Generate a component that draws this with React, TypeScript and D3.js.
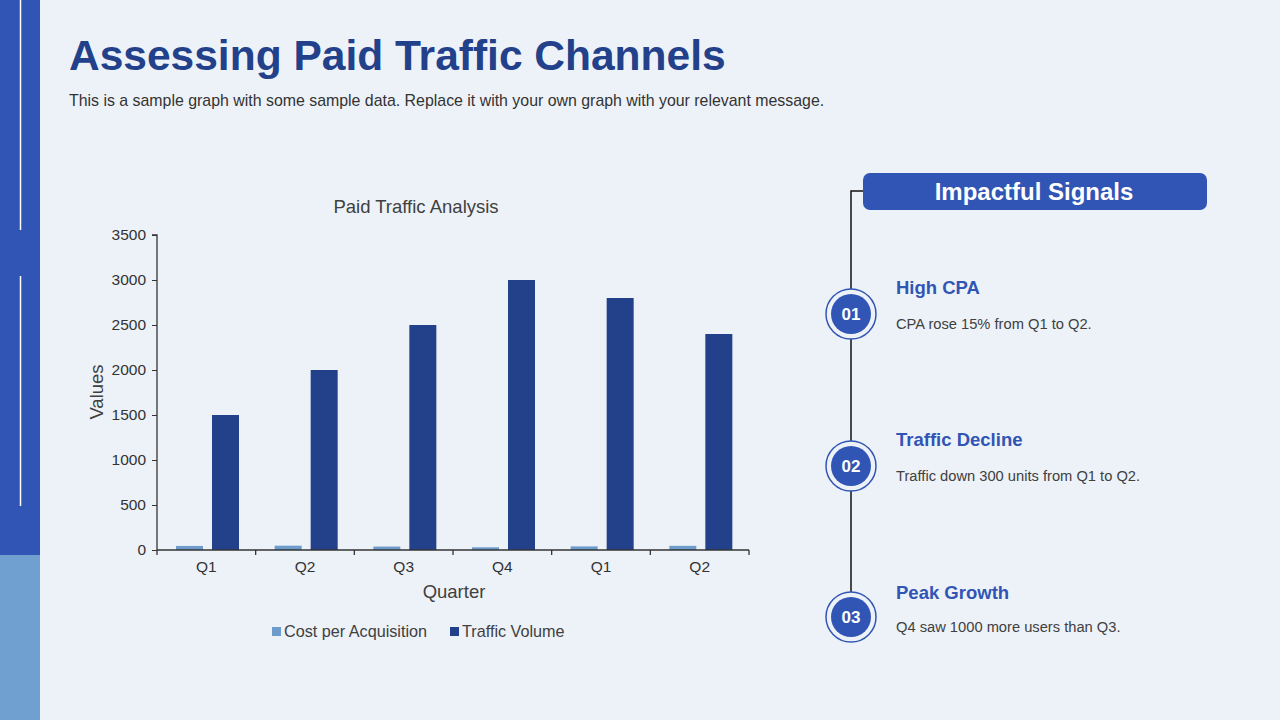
import React, { useEffect, useRef } from "react";
import * as d3 from "d3";

const quarters = ["Q1", "Q2", "Q3", "Q4", "Q1", "Q2"];
const costPerAcquisition = [45, 48, 38, 30, 40, 46];
const trafficVolume = [1500, 2000, 2500, 3000, 2800, 2400];
const yTicks = [0, 500, 1000, 1500, 2000, 2500, 3000, 3500];
const seriesNames = ["Cost per Acquisition", "Traffic Volume"];

const signalNumbers = ["01", "02", "03"];
const signalTitles = ["High CPA", "Traffic Decline", "Peak Growth"];
const signalTexts = [
  "CPA rose 15% from Q1 to Q2.",
  "Traffic down 300 units from Q1 to Q2.",
  "Q4 saw 1000 more users than Q3.",
];

const W = 1280;
const H = 720;
const FONT = "'Liberation Sans', Arial, sans-serif";
const dark = "#22418a";
const mid = "#3155b5";
const light = "#6c9bcc";
const bg = "#edf2f8";

const margin = { top: 235, left: 157, right: 749, bottom: 550 };

const App: React.FC = () => {
  const svgRef = useRef<SVGSVGElement>(null);

  useEffect(() => {
    const svg = d3.select(svgRef.current);
    svg.selectAll("*").remove();

    svg.append("rect").attr("width", W).attr("height", H).attr("fill", bg);

    // left side bar
    svg.append("rect").attr("width", 40).attr("height", 555).attr("fill", mid);
    svg.append("rect").attr("y", 555).attr("width", 40).attr("height", 165).attr("fill", "#6fa0cf");
    svg.append("line").attr("x1", 20.5).attr("x2", 20.5).attr("y1", 0).attr("y2", 230)
      .attr("stroke", "#ffffff").attr("stroke-width", 1.5);
    svg.append("line").attr("x1", 20.5).attr("x2", 20.5).attr("y1", 276).attr("y2", 506)
      .attr("stroke", "#ffffff").attr("stroke-width", 1.5);

    // header
    svg.append("text").attr("x", 69).attr("y", 70).attr("fill", dark)
      .style("font", `bold 42.5px ${FONT}`).text("Assessing Paid Traffic Channels");
    svg.append("text").attr("x", 69).attr("y", 106).attr("fill", "#333")
      .style("font", `15.9px ${FONT}`)
      .text("This is a sample graph with some sample data. Replace it with your own graph with your relevant message.");

    // chart
    const x = d3.scaleBand<number>()
      .domain(quarters.map((_, i) => i))
      .range([margin.left, margin.right]);
    const y = d3.scaleLinear().domain([0, 3500]).range([margin.bottom, margin.top]);
    const bw = 27;

    const chart = svg.append("g");

    chart.append("text").attr("x", 416).attr("y", 213).attr("text-anchor", "middle")
      .attr("fill", "#404040").style("font", `18.5px ${FONT}`).text("Paid Traffic Analysis");

    chart.selectAll(".cpa").data(costPerAcquisition).enter().append("rect")
      .attr("x", (_, i) => (x(i) as number) + 19)
      .attr("y", (d) => y(d))
      .attr("width", bw)
      .attr("height", (d) => y(0) - y(d))
      .attr("fill", light);

    chart.selectAll(".tv").data(trafficVolume).enter().append("rect")
      .attr("x", (_, i) => (x(i) as number) + 55)
      .attr("y", (d) => y(d))
      .attr("width", bw)
      .attr("height", (d) => y(0) - y(d))
      .attr("fill", dark);

    chart.append("g")
      .attr("transform", `translate(${margin.left},0)`)
      .call(d3.axisLeft(y).tickValues(yTicks).tickSize(5).tickFormat(d3.format("d")))
      .call((g) => g.select(".domain").attr("stroke", "#333").attr("stroke-width", 1.3).attr("d", `M-5,${margin.top}H0V${margin.bottom}`))
      .call((g) => g.selectAll("line").attr("stroke", "#333"))
      .call((g) => g.selectAll("text").attr("fill", "#333").attr("x", -11).style("font", `15.5px ${FONT}`));

    chart.append("g")
      .attr("transform", `translate(0,${margin.bottom})`)
      .call(d3.axisBottom(x).tickSize(0).tickFormat((i) => quarters[i as number]))
      .call((g) => g.select(".domain").attr("stroke", "#333").attr("stroke-width", 1.3).attr("d", `M${margin.left},0H${margin.right}`))
      .call((g) => g.selectAll("text").attr("fill", "#333").attr("dy", "1.2em").style("font", `15.5px ${FONT}`));

    chart.append("g").selectAll("line")
      .data(d3.range(quarters.length + 1))
      .enter().append("line")
      .attr("x1", (i) => margin.left + i * x.step())
      .attr("x2", (i) => margin.left + i * x.step())
      .attr("y1", margin.bottom).attr("y2", margin.bottom + 5)
      .attr("stroke", "#333").attr("stroke-width", 1.3);

    chart.append("text")
      .attr("transform", `translate(103,392) rotate(-90)`)
      .attr("text-anchor", "middle").attr("fill", "#404040")
      .style("font", `18.5px ${FONT}`).text("Values");
    chart.append("text").attr("x", 454).attr("y", 598).attr("text-anchor", "middle")
      .attr("fill", "#404040").style("font", `18.5px ${FONT}`).text("Quarter");

    // legend
    const legendX = [272, 450];
    const legendColors = [light, dark];
    seriesNames.forEach((name, i) => {
      chart.append("rect").attr("x", legendX[i]).attr("y", 627).attr("width", 9).attr("height", 9)
        .attr("fill", legendColors[i]);
      chart.append("text").attr("x", legendX[i] + 12).attr("y", 637).attr("fill", "#404040")
        .style("font", `16.2px ${FONT}`).text(name);
    });

    // right panel
    const panel = svg.append("g");
    const cy = [314, 466, 617];
    panel.append("path").attr("d", `M863,191H851V${cy[2]}`).attr("fill", "none")
      .attr("stroke", "#111").attr("stroke-width", 1.5);
    panel.append("rect").attr("x", 863).attr("y", 173).attr("width", 344).attr("height", 37)
      .attr("rx", 7).attr("fill", mid);
    panel.append("text").attr("x", 1034).attr("y", 200).attr("text-anchor", "middle")
      .attr("fill", "#fff").style("font", `bold 24px ${FONT}`).text("Impactful Signals");

    signalNumbers.forEach((num, i) => {
      panel.append("circle").attr("cx", 851).attr("cy", cy[i]).attr("r", 25)
        .attr("fill", bg).attr("stroke", mid).attr("stroke-width", 1.5);
      panel.append("circle").attr("cx", 851).attr("cy", cy[i]).attr("r", 20).attr("fill", mid);
      panel.append("text").attr("x", 851).attr("y", cy[i] + 6).attr("text-anchor", "middle")
        .attr("fill", "#fff").style("font", `bold 17px ${FONT}`).text(num);
      panel.append("text").attr("x", 896).attr("y", cy[i] - 20 + (i === 2 ? 2 : 0)).attr("fill", mid)
        .style("font", `bold 18.5px ${FONT}`).text(signalTitles[i]);
      panel.append("text").attr("x", 896).attr("y", cy[i] + 15).attr("fill", "#404040")
        .style("font", `14.7px ${FONT}`).text(signalTexts[i]);
    });
  }, []);

  return (
    <svg
      ref={svgRef}
      width={W}
      height={H}
      style={{ position: "absolute", left: 0, top: 0, display: "block" }}
    />
  );
};

export default App;
